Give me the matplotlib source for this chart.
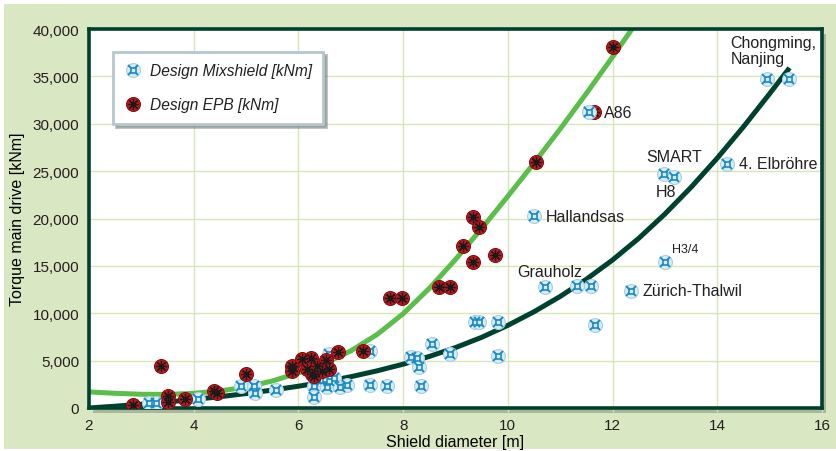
import numpy as np
import matplotlib.pyplot as plt
from matplotlib.lines import Line2D
from matplotlib.patches import Rectangle
from matplotlib.ticker import FuncFormatter, MultipleLocator

plt.rcParams.update({
    'font.family': ['Liberation Sans', 'DejaVu Sans'],
    'font.size': 11,
    'text.color': '#231f20',
})

# Mixshield machines: shield diameter [m] and design torque [kNm]
mix_d = [3.15, 3.28, 4.08, 4.90, 5.15, 5.17, 5.58, 6.29, 6.29, 6.45, 6.51, 6.55, 6.58,
         6.67, 6.80, 6.93, 6.58, 7.37, 7.37, 7.70, 8.15, 8.27, 8.30, 8.34, 8.55, 8.90,
         9.38, 9.45, 9.82, 9.82, 10.49, 10.71, 11.33, 11.59, 11.55, 11.66, 12.36, 12.98,
         13.18, 13.00, 14.18, 14.94, 15.37]
mix_t = [550, 550, 950, 2300, 2300, 1600, 1900, 2300, 1200, 3000, 3050, 2200, 2800,
         3130, 2180, 2430, 5750, 6000, 2430, 2300, 5400, 5250, 4300, 2350, 6750, 5700,
         9040, 9040, 9040, 5500, 20250, 12800, 12850, 12850, 31200, 8800, 12400, 24700,
         24400, 15450, 25700, 34750, 34750]

# EPB machines
epb_d = [2.84, 3.37, 3.50, 3.50, 3.83, 4.38, 4.44, 4.99, 5.87, 5.88, 6.07, 6.24, 6.16,
         6.26, 6.29, 6.36, 6.45, 6.52, 6.58, 6.75, 7.23, 7.74, 7.98, 8.68, 8.90, 9.15,
         9.33, 9.33, 9.45, 9.75, 10.53, 11.64, 12.01]
epb_t = [350, 4400, 1250, 600, 950, 1830, 1580, 3600, 4400, 3900, 5150, 5240, 4110,
         3600, 3400, 4460, 3940, 5050, 4110, 5900, 6000, 11600, 11600, 12800, 12800, 17120,
         15450, 20150, 19100, 16150, 25950, 31200, 38100]

# trend lines
epb_trend_d = [2.0, 2.5, 3.0, 3.5, 4.0, 4.5, 5.0, 5.5, 6.0, 6.5, 7.0, 7.5, 8.0, 8.5, 9.0,
               9.5, 10.0, 10.5, 11.0, 11.5, 12.0, 12.4]
epb_trend_t = [1700, 1550, 1450, 1430, 1550, 1800, 2200, 2850, 3700, 4700, 6025, 7750,
               9950, 12625, 15675, 18950, 22350, 25850, 29460, 33200, 37060, 40230]
mix_trend_d = [2.0, 2.5, 3.0, 3.5, 4.0, 4.5, 5.0, 5.5, 6.0, 6.5, 7.0, 7.5, 8.0, 8.5, 9.0,
               9.5, 10.0, 10.5, 11.0, 11.5, 12.0, 12.5, 13.0, 13.5, 14.0, 14.5, 15.0, 15.38]
mix_trend_t = [0, 190, 400, 640, 900, 1190, 1525, 1890, 2300, 2760, 3300, 3920, 4625,
               5440, 6375, 7460, 8725, 10160, 11775, 13590, 15625, 17910, 20475, 23300,
               26375, 29680, 33175, 35900]

project_names = ['Chongming,\nNanjing', 'A86', 'SMART', 'H8', '4. Elbröhre',
                 'Hallandsas', 'H3/4', 'Grauholz', 'Zürich-Thalwil']

blue = '#1a8ac4'
blue_fill = '#d9ebf4'
red = '#c4161c'
dark_green = '#00402e'
light_green = '#5bbd4a'
grid_green = '#d6e6b8'

fig = plt.figure(figsize=(8.37, 4.52), dpi=100)
fig.patches.append(Rectangle((4/837, 2/452), 832/837, 445/452, transform=fig.transFigure,
                             facecolor='#d9e8c3', edgecolor='none', zorder=-3))
# drop shadow of the plot frame
fig.patches.append(Rectangle((93/837, 38/452), 733/837, 379/452, transform=fig.transFigure,
                             facecolor='#7f8f7c', edgecolor='none', alpha=0.55, zorder=-2))

ax = fig.add_axes([89/837, 43/452, 733/837, 379/452])
ax.set_facecolor('white')
ax.set_xlim(2, 16)
ax.set_ylim(0, 40000)
ax.xaxis.set_major_locator(MultipleLocator(2))
ax.yaxis.set_major_locator(MultipleLocator(5000))
ax.yaxis.set_major_formatter(FuncFormatter(lambda v, p: f'{int(v):,}'))
ax.grid(True, color=grid_green, linewidth=1.0)
ax.set_axisbelow(True)
for s in ax.spines.values():
    s.set_color(dark_green)
    s.set_linewidth(2.6)
ax.tick_params(length=3, color=grid_green, width=1, labelsize=11, labelcolor='#231f20', pad=4)

ax.plot(epb_trend_d, epb_trend_t, color=light_green, lw=3.6, solid_capstyle='butt', zorder=2)
ax.plot(mix_trend_d, mix_trend_t, color=dark_green, lw=3.6, solid_capstyle='butt', zorder=2)


def mix_layers(z):
    return [
        dict(marker='o', ms=10, mfc=blue_fill, mec='#a8cfe2', mew=0.8, zorder=z),
        dict(marker='x', ms=6.5, mec=blue, mew=1.4, zorder=z + 0.01),
        dict(marker='s', ms=3.6, mfc=blue_fill, mec=blue, mew=1.2, zorder=z + 0.02),
    ]


def epb_layers(z):
    return [
        dict(marker='o', ms=10, mfc=red, mec='#7d1014', mew=0.8, zorder=z),
        dict(marker=(8, 2, 0), ms=8, mec='#1a1a1a', mew=0.9, zorder=z + 0.01),
    ]


for kw in mix_layers(3):
    ax.plot(mix_d, mix_t, ls='none', **kw)
for kw in epb_layers(4):
    ax.plot(epb_d, epb_t, ls='none', **kw)
# the A86 Mixshield sits in front of its EPB twin
i_a86 = mix_t.index(31200)
for kw in mix_layers(5):
    ax.plot([mix_d[i_a86]], [mix_t[i_a86]], ls='none', **kw)

txt = dict(fontsize=11.5, color='#231f20', va='center', ha='left', zorder=6)
ax.text(14.25, 37700, project_names[0], linespacing=1.05, **txt)
ax.text(11.83, 31200, project_names[1], **txt)
ax.text(12.65, 26500, project_names[2], **txt)
ax.text(12.82, 22800, project_names[3], **txt)
ax.text(14.41, 25850, project_names[4], **txt)
ax.text(10.72, 20260, project_names[5], **txt)
ax.text(13.13, 16800, project_names[6], **{**txt, 'fontsize': 9})
ax.text(10.18, 14450, project_names[7], **txt)
ax.text(12.57, 12450, project_names[8], **txt)

ax.set_xlabel('Shield diameter [m]', fontsize=11.5)
ax.set_ylabel('Torque main drive [kNm]', fontsize=11.5)
ax.xaxis.set_label_coords(0.5, -0.068)
ax.yaxis.set_label_coords(-0.087, 0.5)

h_mix = tuple(Line2D([], [], ls='none', **kw) for kw in mix_layers(3))
h_epb = tuple(Line2D([], [], ls='none', **kw) for kw in epb_layers(4))
leg = ax.legend([h_mix, h_epb], ['Design Mixshield [kNm]', 'Design EPB [kNm]'],
                loc='upper left', bbox_to_anchor=(0.033, 0.94), borderaxespad=0,
                prop={'style': 'italic', 'size': 11.2}, fancybox=False,
                edgecolor='#b5c6ce', framealpha=1, handlelength=1.0, handletextpad=0.6,
                labelspacing=1.2, borderpad=0.75,
                shadow={'color': '#6f7f78', 'alpha': 0.5})
leg.get_frame().set_linewidth(2)
leg.set_zorder(7)

fig.savefig('out.png', dpi=100)
